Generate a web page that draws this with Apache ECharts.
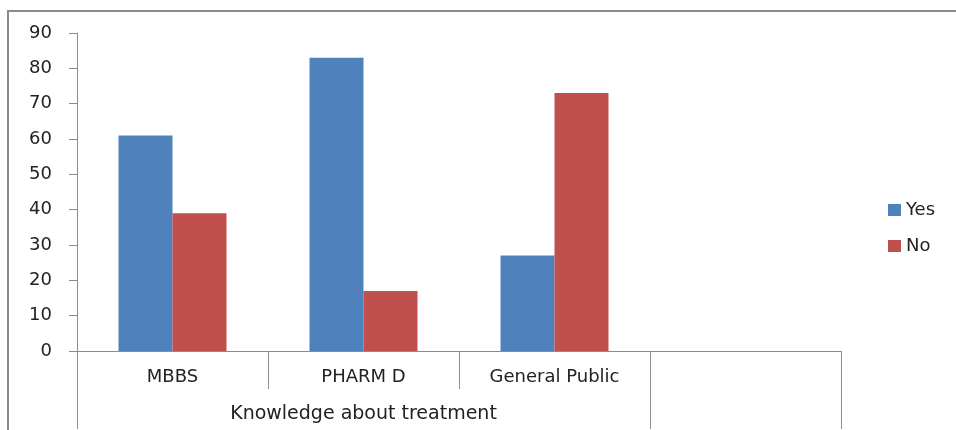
<!DOCTYPE html>
<html>
<head>
<meta charset="utf-8">
<script src="https://cdn.jsdelivr.net/npm/echarts@6/dist/echarts.min.js"></script>
<style>
  html, body { margin: 0; padding: 0; background: #fff; }
  #chart { width: 956px; height: 430px; }
</style>
</head>
<body>
<div id="chart"></div>
<script>
// categories on the x axis (last one is empty in the source)
const categories = ['MBBS', 'PHARM D', 'General Public', '']
const groupLabel = 'Knowledge about treatment'
const yesValues = [61, 83, 27, null]
const noValues = [39, 17, 73, null]
const yTicks = [0, 10, 20, 30, 40, 50, 60, 70, 80, 90]

const lineColor = '#8c8c8c'
const textColor = '#222'
const fontFamily = '"DejaVu Sans", sans-serif'

let chartDom = document.getElementById('chart')
let myChart = echarts.init(chartDom)
let option = {
  animation: false,
  // grey frame round the chart area (cut at right and bottom)
  graphic: [{
    type: 'rect',
    shape: {x: 8, y: 11, width: 1200, height: 600},
    style: {fill: 'none', stroke: '#8a8a8a', lineWidth: 2}
  }],
  legend: {
    orient: 'vertical',
    left: 883,
    top: 196,
    icon: 'rect',
    itemWidth: 13,
    itemHeight: 12,
    itemGap: 18,
    textStyle: {color: textColor, fontSize: 18, fontFamily: fontFamily},
    data: ['Yes', 'No']
  },
  grid: {left: 77, top: 33, width: 764, height: 318},
  xAxis: [
    {
      type: 'category',
      data: categories,
      boundaryGap: true,
      axisLine: {lineStyle: {color: lineColor}},
      axisTick: {show: true, interval: 0, length: 38, lineStyle: {color: lineColor}},
      axisLabel: {interval: 0, margin: 17, color: textColor, fontSize: 18, fontFamily: fontFamily}
    },
    {
      // second level: group label and long separators
      type: 'value',
      position: 'bottom',
      min: 0,
      max: 4,
      axisLine: {show: false},
      splitLine: {show: false},
      axisTick: {show: true, length: 78, customValues: [0, 3, 4], lineStyle: {color: lineColor}},
      axisLabel: {
        customValues: [1.5],
        margin: 54,
        color: textColor,
        fontSize: 19,
        fontFamily: fontFamily,
        formatter: () => groupLabel
      }
    }
  ],
  yAxis: {
    type: 'value',
    min: yTicks[0],
    max: yTicks[yTicks.length - 1],
    interval: 10,
    axisLine: {show: true, lineStyle: {color: lineColor}},
    axisTick: {show: true, length: 8, lineStyle: {color: lineColor}},
    splitLine: {show: false},
    axisLabel: {margin: 25, color: textColor, fontSize: 18, fontFamily: fontFamily}
  },
  series: [
    {
      name: 'Yes',
      type: 'bar',
      xAxisIndex: 0,
      barWidth: 54,
      barGap: '0%',
      itemStyle: {color: '#4f81bd'},
      data: yesValues
    },
    {
      name: 'No',
      type: 'bar',
      xAxisIndex: 0,
      barWidth: 54,
      barGap: '0%',
      itemStyle: {color: '#c0504d'},
      data: noValues
    }
  ]
}

option && myChart.setOption(option)
</script>
</body>
</html>
